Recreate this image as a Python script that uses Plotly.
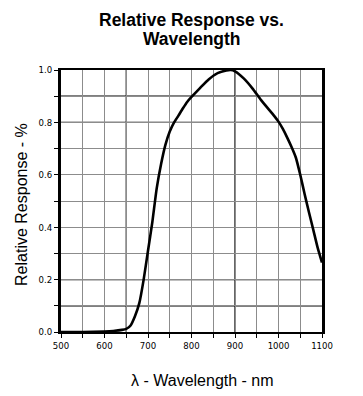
import plotly.graph_objects as go

wavelength = [500, 550, 600, 620, 640, 650, 660, 670, 680, 690, 700, 710, 720, 730, 740,
              750, 760, 770, 780, 790, 800, 820, 840, 860, 880, 890, 900, 920, 940, 960,
              980, 990, 1000, 1010, 1020, 1030, 1040, 1050, 1060, 1070, 1080, 1090, 1100]
response = [0.0, 0.0, 0.002, 0.004, 0.008, 0.012, 0.025, 0.06, 0.11, 0.20, 0.31, 0.42, 0.548,
            0.64, 0.714, 0.765, 0.80, 0.826, 0.853, 0.878, 0.897, 0.932, 0.965, 0.988, 0.998,
            1.0, 0.995, 0.968, 0.93, 0.885, 0.845, 0.825, 0.803, 0.775, 0.742, 0.706, 0.665,
            0.60, 0.527, 0.457, 0.39, 0.322, 0.265]

title_lines = ["Relative Response vs.", "Wavelength"]
x_ticks = [500, 600, 700, 800, 900, 1000, 1100]
y_ticks = [0.0, 0.2, 0.4, 0.6, 0.8, 1.0]
dark_vgrid = [650, 900]
dark_hgrid = [0.1, 0.2, 0.8, 0.9]

fig = go.Figure()
fig.add_trace(go.Scatter(x=wavelength, y=response, mode="lines",
                         line=dict(color="black", width=2.6, shape="spline", smoothing=0.5),
                         hoverinfo="skip", showlegend=False))

shapes = []
for v in dark_vgrid:
    shapes.append(dict(type="line", xref="x", yref="paper", x0=v, x1=v, y0=0, y1=1,
                       line=dict(color="black", width=1.2), layer="below"))
for v in dark_hgrid:
    shapes.append(dict(type="line", xref="paper", yref="y", x0=0, x1=1, y0=v, y1=v,
                       line=dict(color="black", width=1.2), layer="below"))

tickfont = dict(family="DejaVu Sans Condensed, Liberation Sans Narrow, Arial", size=9.5, color="black")
labfont = dict(family="Liberation Sans, Arial", size=16, color="black")
titlefont = dict(family="Liberation Sans, Arial", size=17.5, color="black")

annotations = []
for line, shift in zip(title_lines, [50, 31]):
    annotations.append(dict(text=f"<b>{line}</b>", xref="paper", yref="paper", x=0.5, y=1,
                            yshift=shift, xanchor="center", yanchor="middle",
                            showarrow=False, font=titlefont))
annotations += [
    dict(text="λ - Wavelength - nm", xref="paper", yref="paper", x=0.544, y=0,
         yshift=-48, xanchor="center", yanchor="middle", showarrow=False, font=labfont),
    dict(text="Relative Response - %", xref="paper", yref="paper", x=0, y=0.485,
         xshift=-39, xanchor="center", yanchor="middle", textangle=-90,
         showarrow=False, font=labfont),
]

fig.update_layout(
    width=355, height=388,
    margin=dict(l=53, r=41, t=62, b=64),
    paper_bgcolor="white", plot_bgcolor="white",
    shapes=shapes,
    annotations=annotations,
    xaxis=dict(range=[500, 1100], tickvals=x_ticks, ticktext=[str(v) for v in x_ticks],
               showline=True, linecolor="black", linewidth=2, mirror=True,
               ticks="outside", ticklen=4, tickcolor="black", tickwidth=1,
               showgrid=True, gridcolor="#8c8c8c", gridwidth=1,
               minor=dict(dtick=50, showgrid=True, gridcolor="#8c8c8c", gridwidth=1,
                          ticks="outside", ticklen=4, tickcolor="black"),
               tickfont=tickfont, zeroline=False),
    yaxis=dict(range=[0, 1.0], tickvals=y_ticks, ticktext=[f"{v:.1f}" for v in y_ticks],
               showline=True, linecolor="black", linewidth=3, mirror=True,
               ticks="outside", ticklen=4, tickcolor="black", tickwidth=1,
               showgrid=True, gridcolor="#8c8c8c", gridwidth=1,
               minor=dict(dtick=0.1, showgrid=True, gridcolor="#8c8c8c", gridwidth=1,
                          ticks="outside", ticklen=4, tickcolor="black"),
               tickfont=tickfont, zeroline=False),
)

fig.write_html("out.html")
